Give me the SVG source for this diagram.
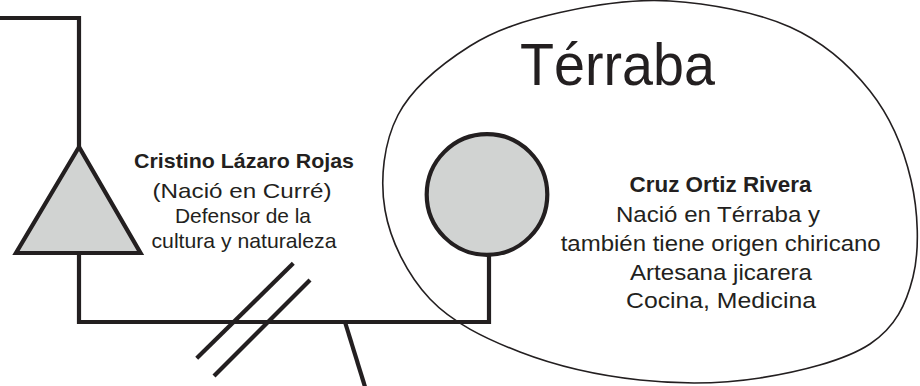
<svg xmlns="http://www.w3.org/2000/svg" width="920" height="386" viewBox="0 0 920 386">
<style>
.ln{fill:none;stroke:#231f20;stroke-width:4.2;stroke-linejoin:miter;stroke-linecap:butt}
.sym{fill:#d1d3d2;stroke:#231f20;stroke-width:4.2;stroke-linejoin:miter}
.blob{fill:none;stroke:#231f20;stroke-width:1.6}
text{font-family:"Liberation Sans",Arial,sans-serif;fill:#231f20}
.t{font-size:21px;text-anchor:middle}
.r{font-size:22px;text-anchor:middle}
.b{font-weight:bold}
</style>
<rect width="920" height="386" fill="#ffffff"/>
<g id="terraba">
<path class="blob" d="M670,1 C708.3,3.4 756.7,12 790,27 C823.3,42 849.8,65.5 870,91 C890.2,116.5 903.8,149 911,180 C918.2,211 919.8,249.7 913,277 C906.2,304.3 895.5,327.2 870,344 C844.5,360.8 798.3,372 760,378 C721.7,384 680,384.3 640,380 C600,375.7 555,365.5 520,352 C485,338.5 452.5,322.7 430,299 C407.5,275.3 390.3,240.7 385,210 C379.7,179.3 383.8,142.3 398,115 C412.2,87.7 443,63.1 470,46 C497,28.9 526.7,20 560,12.5 C593.3,5 631.7,-1.4 670,1 Z"/>
<text x="520" y="85" font-size="60" textLength="195" lengthAdjust="spacingAndGlyphs">Térraba</text>
</g>
<g id="connectors">
<polyline class="ln" points="0,18 79,18 79,147"/>
<polyline class="ln" points="79,253 79,322 489,322 489,252"/>
<line class="ln" x1="293.3" y1="263.3" x2="196.7" y2="358.3"/>
<line class="ln" x1="310" y1="280" x2="214" y2="376"/>
<line class="ln" x1="345" y1="322" x2="366" y2="390"/>
</g>
<g id="cristino">
<polygon class="sym" points="79,147 16,253 140.5,253"/>
<text class="t b" x="244" y="168" textLength="220" lengthAdjust="spacingAndGlyphs">Cristino Lázaro Rojas</text>
<text class="t" x="242" y="198" textLength="179" lengthAdjust="spacingAndGlyphs">(Nació en Curré)</text>
<text class="t" x="243" y="223" textLength="136" lengthAdjust="spacingAndGlyphs">Defensor de la</text>
<text class="t" x="244" y="248" textLength="185" lengthAdjust="spacingAndGlyphs">cultura y naturaleza</text>
</g>
<g id="cruz">
<circle class="sym" cx="487" cy="194.5" r="60.3"/>
<text class="r b" x="720.5" y="192" textLength="182" lengthAdjust="spacingAndGlyphs">Cruz Ortiz Rivera</text>
<text class="r" x="718" y="221.5" textLength="204" lengthAdjust="spacingAndGlyphs">Nació en Térraba y</text>
<text class="r" x="720.7" y="250.5" textLength="320" lengthAdjust="spacingAndGlyphs">también tiene origen chiricano</text>
<text class="r" x="721" y="280" textLength="182" lengthAdjust="spacingAndGlyphs">Artesana jicarera</text>
<text class="r" x="721" y="307.5" textLength="190" lengthAdjust="spacingAndGlyphs">Cocina, Medicina</text>
</g>
</svg>
